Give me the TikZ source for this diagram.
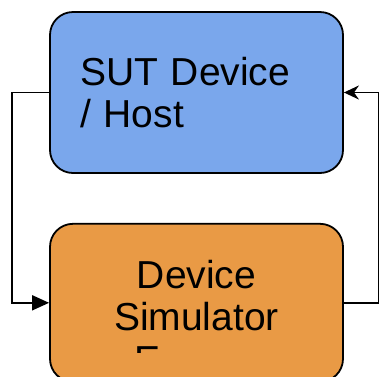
\documentclass[tikz,border=0pt]{standalone}
\usepackage{fontspec}
\setmainfont{Liberation Sans}
\usetikzlibrary{arrows.meta,positioning}
\definecolor{hostblue}{RGB}{122,167,236}
\definecolor{simorange}{RGB}{233,154,69}

\begin{document}
\begin{tikzpicture}[x=1pt,y=-1pt,font=\fontsize{39}{42}\selectfont,
  blk/.style={draw,rounded corners=23pt,line width=1.8pt,minimum width=293pt,inner sep=0pt},
  arr/.style={line width=1.8pt}]
\useasboundingbox (0,0) rectangle (379,376);
\clip (0,0) rectangle (379,376);
\node[blk,fill=hostblue,minimum height=161pt,text width=233pt,align=left] (sut) at (196.5,92.5) {SUT Device\\/ Host};
\node[blk,fill=simorange,minimum height=158pt,below=49pt of sut,
  label={[align=center,yshift=7pt]center:{Device\\Simulator}}] (sim) {};
% third line of the label runs past the box edge
\begin{scope}
  \clip (100,340) rectangle (220,352);
  \node[anchor=base west,inner sep=0pt] (simrest) at (134,373) {E};
\end{scope}
\draw[arr,-{Triangle[length=17pt,width=15pt]}] (sut.west) -- ++(-37,0) |- (sim.west);
\draw[arr,-{Stealth[length=15pt,width=14pt]}] (sim.east) -- ++(35,0) |- (sut.east);
\end{tikzpicture}
\end{document}
